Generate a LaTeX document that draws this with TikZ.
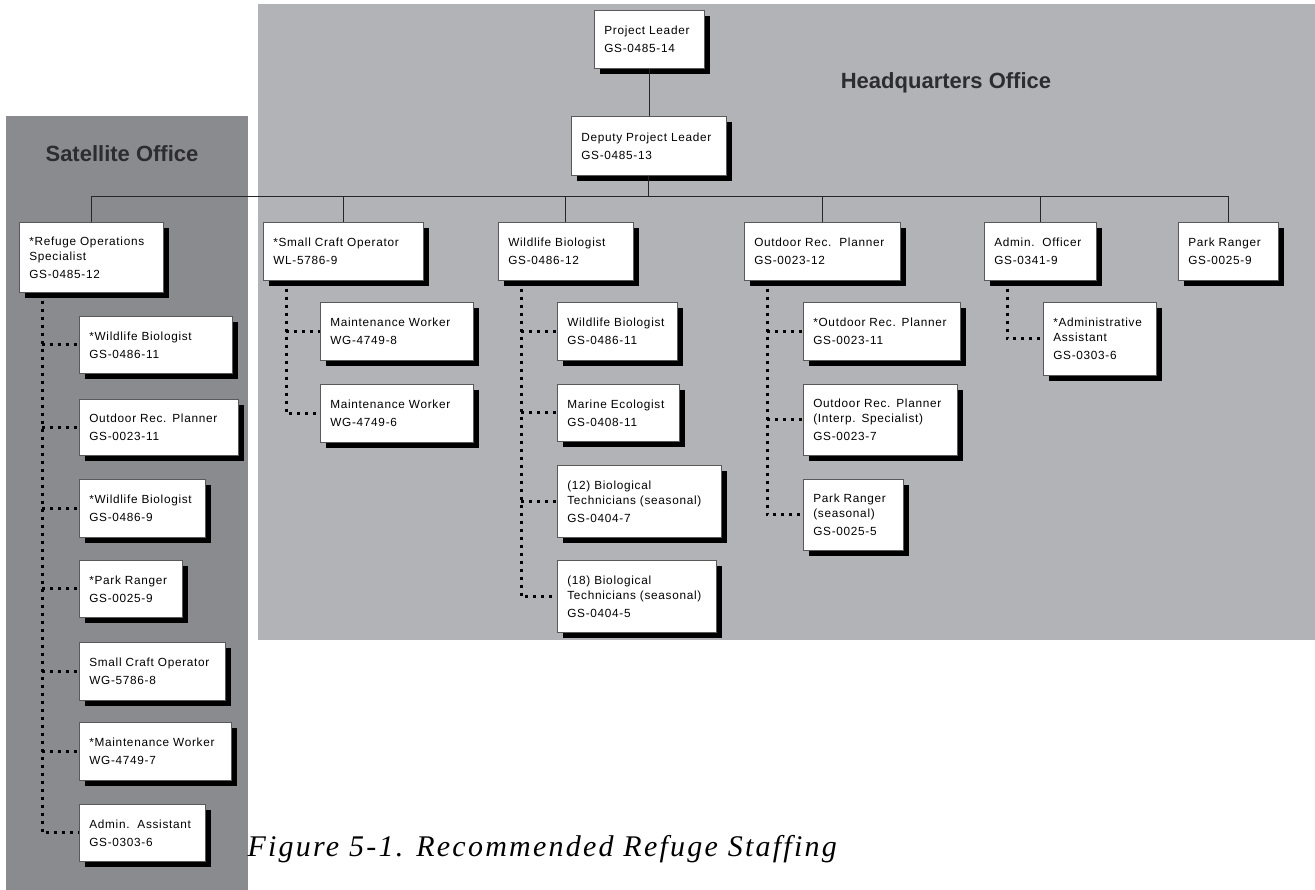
\documentclass[tikz,border=0pt]{standalone}
\usepackage{fontspec}
\setmainfont{Liberation Serif}
\newfontfamily\boxfont[LetterSpace=6]{Liberation Sans}
\newfontfamily\titlefont{Liberation Sans}
\newfontfamily\captionfont[LetterSpace=7.5]{Liberation Serif}
\usetikzlibrary{shadows}
\definecolor{hqgray}{RGB}{178, 179, 183}
\definecolor{satgray}{RGB}{138, 139, 143}
\definecolor{titledark}{RGB}{45, 45, 48}
\tikzset{
  staffbox/.style={draw=black!65, line width=0.6pt, fill=white,
    anchor=north west, inner xsep=10pt, inner ysep=0pt, align=left,
    font=\boxfont\fontsize{11.8}{15}\selectfont,
    drop shadow={shadow xshift=6pt, shadow yshift=-6pt, opacity=1, fill=black}},
  solidline/.style={draw=black!85, line width=0.8pt},
  dotline/.style={line width=3pt, dash pattern=on 3pt off 5pt},
  officetitle/.style={font=\titlefont\bfseries\fontsize{22}{26}\selectfont, text=titledark}
}

\begin{document}
\begin{tikzpicture}[x=1pt, y=-1pt]
    \useasboundingbox (0, 0) rectangle (1315, 890);
    % office areas
    \fill[hqgray] (258, 4) rectangle (1315, 640);
    \fill[satgray] (6, 116) rectangle (248, 890);
    \node[officetitle] (sattitle) at (122, 154) {Satellite Office};
    \node[officetitle] (hqtitle) at (946, 83) {Headquarters Office};

    % top of the chart
    \node[staffbox, text width=90pt, minimum height=58pt] (pl) at (594, 10)
      {Project Leader\\[3pt]GS-0485-14};
    \node[staffbox, text width=135pt, minimum height=59pt] (dpl) at (571, 116)
      {Deputy Project Leader\\[3pt]GS-0485-13};

    % second level
    \node[staffbox, text width=124pt, minimum height=70pt] (ros) at (19, 222)
      {*Refuge Operations\\Specialist\\[3pt]GS-0485-12};
    \node[staffbox, text width=140pt, minimum height=58pt] (sco) at (263, 222)
      {*Small Craft Operator\\[3pt]WL-5786-9};
    \node[staffbox, text width=115pt, minimum height=58pt] (wb) at (498, 222)
      {Wildlife Biologist\\[3pt]GS-0486-12};
    \node[staffbox, text width=136pt, minimum height=58pt] (orp) at (744, 222)
      {Outdoor Rec.\ \ Planner\\[3pt]GS-0023-12};
    \node[staffbox, text width=92pt, minimum height=58pt] (ao) at (984, 222)
      {Admin.\ \ Officer\\[3pt]GS-0341-9};
    \node[staffbox, text width=80pt, minimum height=58pt] (pr) at (1178, 222)
      {Park Ranger\\[3pt]GS-0025-9};

    % satellite staff
    \node[staffbox, text width=133pt, minimum height=57pt] (ros1) at (79, 316)
      {*Wildlife Biologist\\[3pt]GS-0486-11};
    \node[staffbox, text width=139pt, minimum height=56pt] (ros2) at (79, 399)
      {Outdoor Rec. Planner\\[3pt]GS-0023-11};
    \node[staffbox, text width=106pt, minimum height=58pt] (ros3) at (79, 479)
      {*Wildlife Biologist\\[3pt]GS-0486-9};
    \node[staffbox, text width=83pt, minimum height=57pt] (ros4) at (79, 560)
      {*Park Ranger\\[3pt]GS-0025-9};
    \node[staffbox, text width=126pt, minimum height=58pt] (ros5) at (79, 642)
      {Small Craft Operator\\[3pt]WG-5786-8};
    \node[staffbox, text width=132pt, minimum height=58pt] (ros6) at (79, 722)
      {*Maintenance Worker\\[3pt]WG-4749-7};
    \node[staffbox, text width=106pt, minimum height=57pt] (ros7) at (79, 804)
      {Admin.\ \ Assistant\\[3pt]GS-0303-6};

    % headquarters staff
    \node[staffbox, text width=133pt, minimum height=58pt] (sco1) at (320, 302)
      {Maintenance Worker\\[3pt]WG-4749-8};
    \node[staffbox, text width=133pt, minimum height=58pt] (sco2) at (320, 384)
      {Maintenance Worker\\[3pt]WG-4749-6};
    \node[staffbox, text width=100pt, minimum height=58pt] (wb1) at (557, 302)
      {Wildlife Biologist\\[3pt]GS-0486-11};
    \node[staffbox, text width=102pt, minimum height=57pt] (wb2) at (557, 384)
      {Marine Ecologist\\[3pt]GS-0408-11};
    \node[staffbox, text width=144pt, minimum height=72pt] (wb3) at (557, 465)
      {(12) Biological\\Technicians (seasonal)\\[3pt]GS-0404-7};
    \node[staffbox, text width=139pt, minimum height=72pt] (wb4) at (557, 560)
      {(18) Biological\\Technicians (seasonal)\\[3pt]GS-0404-5};
    \node[staffbox, text width=137pt, minimum height=58pt] (orp1) at (803, 302)
      {*Outdoor Rec. Planner\\[3pt]GS-0023-11};
    \node[staffbox, text width=134pt, minimum height=71pt] (orp2) at (803, 384)
      {Outdoor Rec. Planner\\(Interp. Specialist)\\[3pt]GS-0023-7};
    \node[staffbox, text width=80pt, minimum height=71pt] (orp3) at (803, 479)
      {Park Ranger\\(seasonal)\\[3pt]GS-0025-5};
    \node[staffbox, text width=93pt, minimum height=73pt] (ao1) at (1043, 302)
      {*Administrative\\Assistant\\[3pt]GS-0303-6};

    % solid lines of command
    \coordinate (bus) at ([yshift=-21pt]dpl.south);
    \draw[solidline] (pl) -- (pl |- dpl.north);
    \draw[solidline] (dpl.south) -- (bus);
    \draw[solidline] (ros.north) |- (pr.north |- bus) -- (pr.north);
    \foreach \n in {sco, wb, orp, ao}
      \draw[solidline] (\n.north) -- (\n.north |- bus);

    % dotted lines to the staff
    \foreach \p/\last/\others in {ros/ros7/{ros1,ros2,ros3,ros4,ros5,ros6},
                                  sco/sco2/{sco1},
                                  wb/wb4/{wb1,wb2,wb3},
                                  orp/orp3/{orp1,orp2},
                                  ao/ao1/{}} {
      \coordinate (\p v) at ([xshift=23pt, yshift=-8pt]\p.south west);
      \draw[dotline] (\p v) |- (\last.west);
      \foreach \c in \others
        \draw[dotline] (\p v |- \c.west) -- (\c.west);
    }

    \node[font=\captionfont\itshape\fontsize{30}{34}\selectfont, anchor=west] (caption) at (244, 849)
      {Figure 5-1. Recommended Refuge Staffing};
  \end{tikzpicture}
\end{document}
